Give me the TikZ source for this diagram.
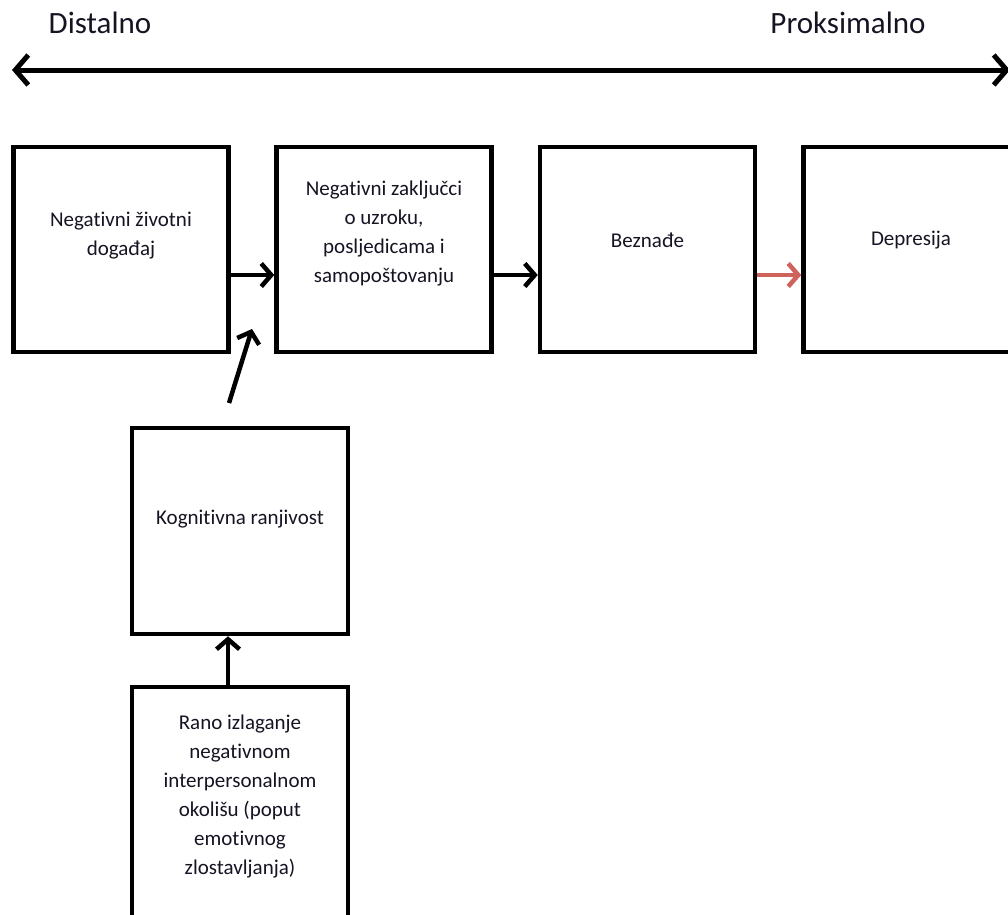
\documentclass[tikz,border=0pt]{standalone}
\usepackage{fontspec}
\setmainfont{Carlito}[Ligatures=NoCommon]
\usetikzlibrary{arrows.meta,calc}
\definecolor{redarrow}{RGB}{208,98,92}
\definecolor{txt}{RGB}{20,20,35}
\begin{document}
\begin{tikzpicture}[x=1pt,y=-1pt,
  stagebox/.style={draw=black,line width=4.5pt,rectangle,minimum width=215pt,minimum height=205pt,inner sep=0pt},
  boxtext/.style={align=center,text=txt,font=\fontsize{21}{29}\selectfont,inner sep=0pt},
  toplabel/.style={text=txt,font=\fontsize{31}{36}\selectfont,inner sep=0pt},
  arr/.style={line width=4.5pt,-{Straight Barb[length=10pt,width=23pt]}},
  redarr/.style={arr,draw=redarrow}
]
\useasboundingbox (0,0) rectangle (1008,914);
\clip (0,0) rectangle (1008,914);

% top axis
\node[toplabel] (dist) at (100,23) {Distalno};
\node[toplabel] (prox) at (848,23) {Proksimalno};
\coordinate (axL) at (12,70);
\coordinate (axR) at (1010,70);
\draw[line width=5pt,{Straight Barb[length=13pt,width=30pt]}-{Straight Barb[length=13pt,width=30pt]}] (axL) -- (axR);

% main row
\node[stagebox] (b1) at (121,249.5) {};
\node[stagebox] (b2) at (384,249.5) {};
\node[stagebox] (b3) at (647.5,249.5) {};
\node[stagebox] (b4) at (911,249.5) {};
\node[boxtext] (t1) at (121,236) {Negativni životni\\događaj};
\node[boxtext] (t2) at (384,233) {Negativni zaključci\\o uzroku,\\posljedicama i\\samopoštovanju};
\node[boxtext] (t3) at (647.5,240) {Beznađe};
\node[boxtext] (t4) at (911,240) {Depresija};

% lower column
\node[stagebox,minimum width=216pt,minimum height=206pt] (kog) at (240,531) {};
\node[boxtext] (tk) at (240,519) {Kognitivna ranjivost};
\node[stagebox,minimum width=216pt,minimum height=260pt] (rano) at (240,817) {};
\node[boxtext] (tr) at (240,796) {Rano izlaganje\\negativnom\\interpersonalnom\\okolišu (poput\\emotivnog\\zlostavljanja)};

% connectors
\coordinate (rowy) at (0,275);
\draw[arr] (b1.east |- rowy) -- (b2.west |- rowy);
\draw[arr] (b2.east |- rowy) -- (b3.west |- rowy);
\draw[redarr] (b3.east |- rowy) -- (b4.west |- rowy);

\coordinate (obtail) at (229,403);
\coordinate (obtip) at (252,329);
\draw[arr] (obtail) -- (obtip);

\coordinate (vx) at (228,0);
\draw[arr] (vx |- rano.north) -- (vx |- kog.south);
\end{tikzpicture}
\end{document}
